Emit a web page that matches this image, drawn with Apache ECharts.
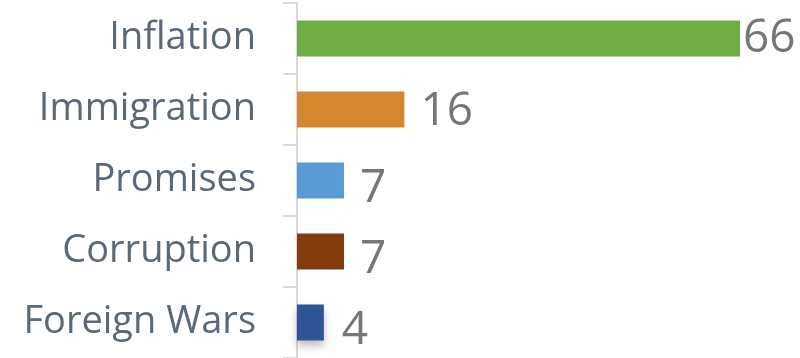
<!DOCTYPE html>
<html>
<head>
<meta charset="utf-8">
<script src="https://cdn.jsdelivr.net/npm/echarts@6/dist/echarts.min.js"></script>
<style>
html,body{margin:0;padding:0;background:#fff;}
#chart{width:800px;height:358px;}
</style>
</head>
<body>
<div id="chart"></div>
<script>
var categories = ['Inflation', 'Immigration', 'Promises', 'Corruption', 'Foreign Wars'];
var values = [66, 16, 7, 7, 4];

var barColors = ['#70ad47', '#d4872f', '#5b9bd5', '#843c0c', '#2f5597'];
var labelDistance = [3, 16, 16, 16, 18];
var labelOffsetY = [0, 2, 8, 8, 8];

var chart = echarts.init(document.getElementById('chart'), null, {renderer: 'canvas'});

var seriesData = values.map(function (v, i) {
  var item = {
    value: v,
    itemStyle: {color: barColors[i]},
    label: {distance: labelDistance[i], offset: [0, labelOffsetY[i]]}
  };
  if (i === values.length - 1) {
    item.itemStyle.shadowBlur = 8;
    item.itemStyle.shadowColor = 'rgba(0,0,0,0.25)';
    item.itemStyle.shadowOffsetY = 5;
  }
  return item;
});

chart.setOption({
  animation: false,
  grid: {left: 297, top: 3, width: 443, height: 359, containLabel: false},
  xAxis: {
    type: 'value',
    min: 0,
    max: 66,
    show: false
  },
  yAxis: {
    type: 'category',
    data: categories,
    inverse: true,
    axisLine: {show: true, lineStyle: {color: '#d9d9d9', width: 2}},
    axisTick: {show: true, length: 14, lineStyle: {color: '#d9d9d9', width: 2}},
    axisLabel: {
      margin: 41,
      color: '#5a6878',
      fontSize: 38,
      fontFamily: 'Open Sans'
    },
    splitLine: {show: false}
  },
  series: [{
    type: 'bar',
    data: seriesData,
    barWidth: 36,
    label: {
      show: true,
      position: 'right',
      color: '#767676',
      fontSize: 46,
      fontFamily: 'Open Sans'
    }
  }]
});
</script>
</body>
</html>
